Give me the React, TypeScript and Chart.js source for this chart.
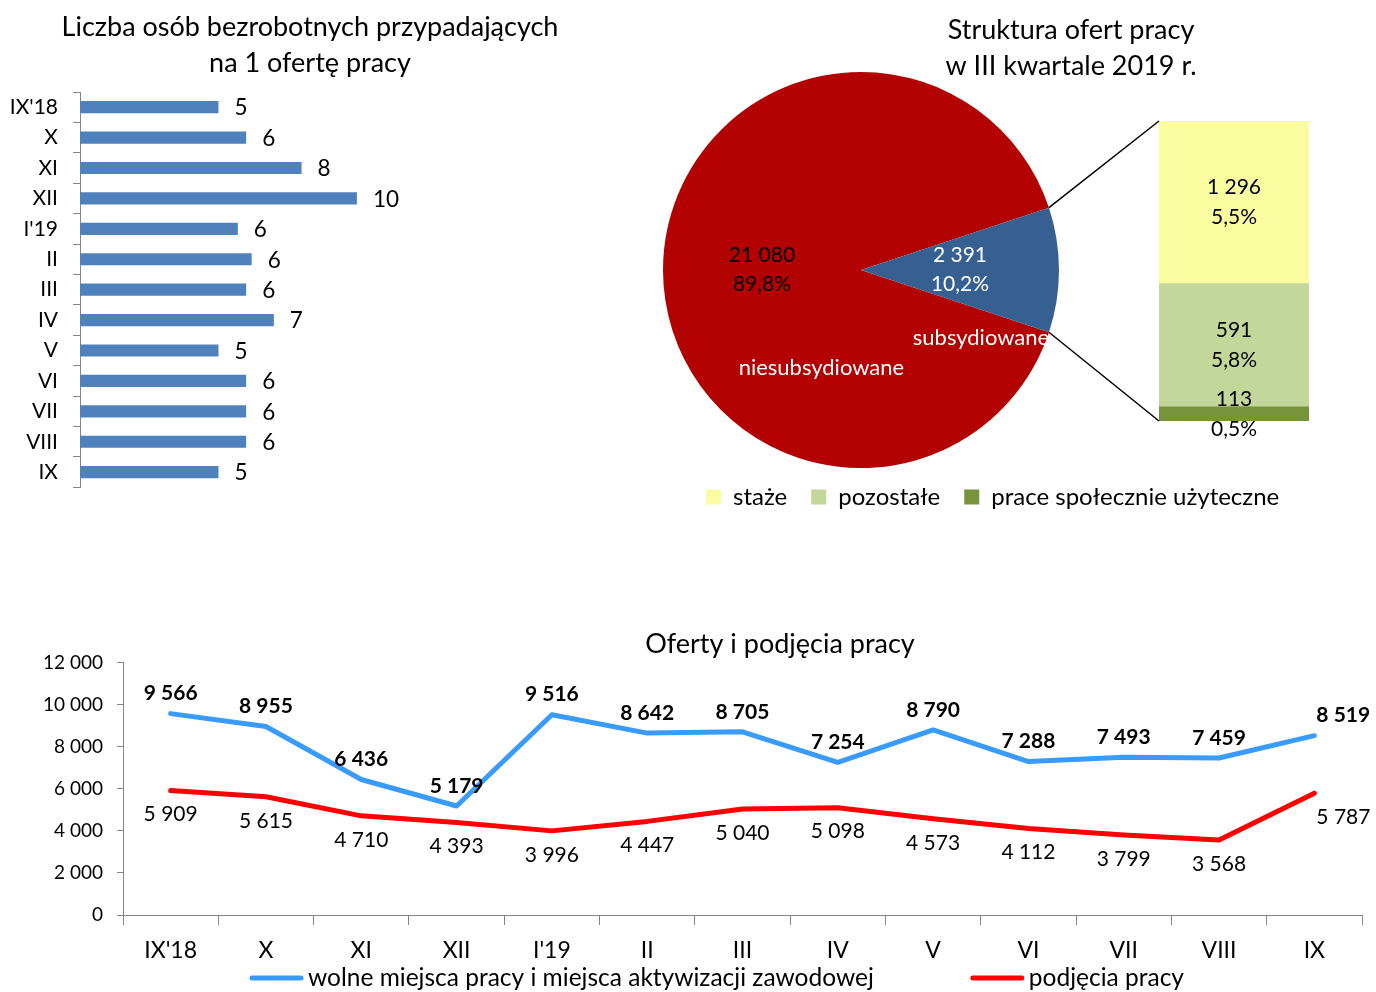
import React, { useEffect, useRef } from "react";
import { Chart, registerables } from "chart.js";

Chart.register(...registerables);

const FONT = "Lato";

// ---------- Left: horizontal bar chart ----------
const BAR_TITLE = ["Liczba osób bezrobotnych przypadających", "na 1 ofertę pracy"];
const BAR_MONTHS = ["IX'18", "X", "XI", "XII", "I'19", "II", "III", "IV", "V", "VI", "VII", "VIII", "IX"];
const BAR_VALUES = [5.0, 6.0, 8.0, 10.0, 5.7, 6.2, 6.0, 7.0, 5.0, 6.0, 6.0, 6.0, 5.0];

// ---------- Right: pie + bar of pie ----------
const PIE_TITLE = ["Struktura ofert pracy", "w III kwartale 2019 r."];
const PIE_LABELS = ["niesubsydiowane", "subsydiowane"];
const PIE_VALUES = [21080, 2391];
const PIE_COLORS = ["#B30000", "#376092"];

// secondary stacked bar, listed bottom -> top
const SUB_LABELS = ["prace społecznie użyteczne", "pozostałe", "staże"];
const SUB_HEIGHTS = [113, 982, 1296];
const SUB_SHOWN_VALUES = [113, 591, 1296];
const SUB_PERCENTS = ["0,5%", "5,8%", "5,5%"];
const SUB_COLORS = ["#77933C", "#C4D79B", "#FAFCA0"];

// ---------- Bottom: line chart ----------
const LINE_TITLE = "Oferty i podjęcia pracy";
const LINE_MONTHS = ["IX'18", "X", "XI", "XII", "I'19", "II", "III", "IV", "V", "VI", "VII", "VIII", "IX"];
const OFFERS = [9566, 8955, 6436, 5179, 9516, 8642, 8705, 7254, 8790, 7288, 7493, 7459, 8519];
const PLACEMENTS = [5909, 5615, 4710, 4393, 3996, 4447, 5040, 5098, 4573, 4112, 3799, 3568, 5787];
const LINE_SERIES = ["wolne miejsca pracy i miejsca aktywizacji zawodowej", "podjęcia pracy"];
const LINE_COLORS = ["#3A9BFF", "#FF0000"];
const Y_MAX = 12000;
const Y_STEP = 2000;

// ---------- layout (page coordinates of canvases) ----------
const C1 = { left: 0, top: 0, width: 620, height: 515 };
const C2 = { left: 653, top: 62, width: 416, height: 416 };
const C3 = { left: 682, top: 0, width: 778, height: 519 };
const C4 = { left: 0, top: 600, width: 1560, height: 392 };

const AXIS = "#868686";

const fmt = (n: number) => String(Math.round(n)).replace(/\B(?=(\d{3})+(?!\d))/g, " ");
const pct = (v: number, total: number) => (Math.round((v / total) * 1000) / 10).toFixed(1).replace(".", ",") + "%";

export default function App() {
  const r1 = useRef<HTMLCanvasElement>(null);
  const r2 = useRef<HTMLCanvasElement>(null);
  const r3 = useRef<HTMLCanvasElement>(null);
  const r4 = useRef<HTMLCanvasElement>(null);

  useEffect(() => {
    Chart.defaults.font.family = FONT;
    Chart.defaults.color = "#000";

    // ----- chart 1: horizontal bars -----
    const barLabels = {
      id: "barLabels",
      afterDatasetsDraw(chart: any) {
        const ctx = chart.ctx;
        const meta = chart.getDatasetMeta(0);
        ctx.save();
        ctx.font = `22.5px ${FONT}`;
        ctx.fillStyle = "#000";
        ctx.textAlign = "left";
        ctx.textBaseline = "middle";
        meta.data.forEach((bar: any, i: number) => {
          ctx.fillText(String(Math.round(BAR_VALUES[i])), bar.x + 16, bar.y + 1);
        });
        ctx.restore();
      },
    };
    const c1 = new Chart(r1.current!, {
      type: "bar",
      data: {
        labels: BAR_MONTHS,
        datasets: [
          {
            data: BAR_VALUES,
            backgroundColor: "#4F81BD",
            barPercentage: 0.4,
            categoryPercentage: 1,
          },
        ],
      },
      options: {
        indexAxis: "y",
        animation: false,
        responsive: false,
        maintainAspectRatio: false,
        layout: { padding: 0 },
        plugins: {
          legend: { display: false },
          tooltip: { enabled: false },
          title: {
            display: true,
            text: BAR_TITLE,
            font: { family: FONT, size: 27, lineHeight: 36 / 27, weight: "normal" },
            color: "#000",
            padding: { top: 9, bottom: 11 },
          },
        },
        scales: {
          x: { display: false, min: 0, max: 19.5 },
          y: {
            grid: { drawOnChartArea: false, drawTicks: true, tickLength: 7, color: AXIS, offset: true },
            border: { color: AXIS },
            ticks: { font: { family: FONT, size: 21 }, color: "#000", padding: 15, autoSkip: false },
            afterFit: (s: any) => {
              s.width = 80;
            },
          },
        },
      },
      plugins: [barLabels],
    } as any);

    // ----- chart 2: pie -----
    const pieTotal = PIE_VALUES.reduce((a, b) => a + b, 0);
    const beforeLast = PIE_VALUES.slice(0, -1).reduce((a, b) => a + b, 0);
    const rotation = 90 - ((beforeLast + PIE_VALUES[PIE_VALUES.length - 1] / 2) / pieTotal) * 360;
    const CAT_OFFSETS = [
      [-0.2, 0.495],
      [0.606, 0.343],
    ];
    const pieLabels = {
      id: "pieLabels",
      afterDatasetsDraw(chart: any) {
        const ctx = chart.ctx;
        const meta = chart.getDatasetMeta(0);
        ctx.save();
        ctx.textAlign = "center";
        ctx.textBaseline = "middle";
        meta.data.forEach((arc: any, i: number) => {
          const p = arc.getProps(["x", "y", "startAngle", "endAngle", "outerRadius"], true);
          const mid = (p.startAngle + p.endAngle) / 2;
          const vx = p.x + Math.cos(mid) * p.outerRadius * 0.5;
          const vy = p.y + Math.sin(mid) * p.outerRadius * 0.5;
          ctx.font = `21px ${FONT}`;
          ctx.fillStyle = i === 0 ? "#000" : "#fff";
          ctx.fillText(fmt(PIE_VALUES[i]), vx, vy - 14.5);
          ctx.fillText(pct(PIE_VALUES[i], pieTotal), vx, vy + 14.5);
          ctx.font = `22px ${FONT}`;
          ctx.fillStyle = "#fff";
          ctx.fillText(PIE_LABELS[i], p.x + CAT_OFFSETS[i][0] * p.outerRadius, p.y + CAT_OFFSETS[i][1] * p.outerRadius);
        });
        ctx.restore();
      },
    };
    const c2 = new Chart(r2.current!, {
      type: "pie",
      data: {
        labels: PIE_LABELS,
        datasets: [{ data: PIE_VALUES, backgroundColor: PIE_COLORS, borderWidth: 0 }],
      },
      options: {
        animation: false,
        responsive: false,
        maintainAspectRatio: false,
        rotation,
        layout: { padding: 10 },
        plugins: { legend: { display: false }, tooltip: { enabled: false }, title: { display: false } },
      },
      plugins: [pieLabels],
    } as any);

    // ----- chart 3: bar of pie -----
    const subTotal = SUB_HEIGHTS.reduce((a, b) => a + b, 0);
    const subPlugin = {
      id: "subPlugin",
      afterDatasetsDraw(chart: any) {
        const ctx = chart.ctx;
        ctx.save();
        ctx.font = `21px ${FONT}`;
        ctx.fillStyle = "#000";
        ctx.textAlign = "center";
        ctx.textBaseline = "middle";
        chart.data.datasets.forEach((ds: any, i: number) => {
          const bar = chart.getDatasetMeta(i).data[0] as any;
          const cy = (bar.y + bar.base) / 2;
          ctx.fillText(fmt(SUB_SHOWN_VALUES[i]), bar.x, cy - 15);
          ctx.fillText(SUB_PERCENTS[i], bar.x, cy + 15);
        });
        // connector lines from the pie slice to the stacked bar
        const arc = c2.getDatasetMeta(0).data[PIE_VALUES.length - 1] as any;
        const p = arc.getProps(["x", "y", "startAngle", "endAngle", "outerRadius"], true);
        const dx = C2.left - C3.left;
        const dy = C2.top - C3.top;
        const sx = dx + p.x + Math.cos(p.startAngle) * p.outerRadius;
        const sy = dy + p.y + Math.sin(p.startAngle) * p.outerRadius;
        const ex = dx + p.x + Math.cos(p.endAngle) * p.outerRadius;
        const ey = dy + p.y + Math.sin(p.endAngle) * p.outerRadius;
        const n = chart.data.datasets.length;
        const top = chart.getDatasetMeta(n - 1).data[0] as any;
        const bottom = chart.getDatasetMeta(0).data[0] as any;
        ctx.strokeStyle = "#000";
        ctx.lineWidth = 1.5;
        ctx.beginPath();
        ctx.moveTo(sx, sy);
        ctx.lineTo(top.x - top.width / 2, top.y);
        ctx.moveTo(ex, ey);
        ctx.lineTo(bottom.x - bottom.width / 2, bottom.base);
        ctx.stroke();
        ctx.restore();
      },
    };
    const hidden = {
      display: true,
      grid: { display: false },
      ticks: { display: false },
      border: { display: false },
    };
    const c3 = new Chart(r3.current!, {
      type: "bar",
      data: {
        labels: [""],
        datasets: SUB_LABELS.map((l, i) => ({
          label: l,
          data: [SUB_HEIGHTS[i]],
          backgroundColor: SUB_COLORS[i],
          borderWidth: 0,
          barPercentage: 1,
          categoryPercentage: 1,
        })),
      },
      options: {
        animation: false,
        responsive: false,
        maintainAspectRatio: false,
        layout: { padding: 0 },
        plugins: {
          tooltip: { enabled: false },
          title: {
            display: true,
            text: PIE_TITLE,
            font: { family: FONT, size: 27, lineHeight: 36 / 27, weight: "normal" },
            color: "#000",
            padding: { top: 12, bottom: 37 },
          },
          legend: {
            display: true,
            position: "bottom",
            align: "start",
            reverse: true,
            labels: { boxWidth: 15, boxHeight: 15, padding: 24, font: { family: FONT, size: 24 }, color: "#000" },
          },
        },
        scales: {
          x: { ...hidden, stacked: true, afterFit: (s: any) => { s.height = 40; } },
          y: { ...hidden, stacked: true, min: 0, max: subTotal, afterFit: (s: any) => { s.width = 477; } },
          y2: { ...hidden, position: "right", afterFit: (s: any) => { s.width = 151; } },
        },
      },
      plugins: [subPlugin],
    } as any);

    // ----- chart 4: lines -----
    const lineLabels = {
      id: "lineLabels",
      afterDatasetsDraw(chart: any) {
        const ctx = chart.ctx;
        ctx.save();
        ctx.fillStyle = "#000";
        ctx.textBaseline = "middle";
        chart.data.datasets.forEach((ds: any, di: number) => {
          const meta = chart.getDatasetMeta(di);
          ctx.font = di === 0 ? `bold 21px ${FONT}` : `21px ${FONT}`;
          meta.data.forEach((pt: any, i: number) => {
            const last = i === meta.data.length - 1;
            ctx.textAlign = last ? "left" : "center";
            const x = last ? pt.x + 2 : pt.x;
            const y = di === 0 ? pt.y - 20 : pt.y + 24;
            ctx.fillText(fmt(ds.data[i]), x, y);
          });
        });
        ctx.restore();
      },
      afterDraw(chart: any) {
        const ctx = chart.ctx;
        const y = chart.chartArea.bottom + 63;
        let x = 250;
        ctx.save();
        ctx.font = `24.5px ${FONT}`;
        ctx.textAlign = "left";
        ctx.textBaseline = "middle";
        chart.data.datasets.forEach((ds: any) => {
          ctx.strokeStyle = ds.borderColor;
          ctx.lineWidth = 5;
          ctx.lineCap = "round";
          ctx.beginPath();
          ctx.moveTo(x + 2, y);
          ctx.lineTo(x + 51, y);
          ctx.stroke();
          ctx.fillStyle = "#000";
          ctx.fillText(ds.label, x + 58, y);
          x += 58 + ctx.measureText(ds.label).width + 97;
        });
        ctx.restore();
      },
    };
    const c4 = new Chart(r4.current!, {
      type: "line",
      data: {
        labels: LINE_MONTHS,
        datasets: [
          { label: LINE_SERIES[0], data: OFFERS, borderColor: LINE_COLORS[0] },
          { label: LINE_SERIES[1], data: PLACEMENTS, borderColor: LINE_COLORS[1] },
        ].map((d) => ({
          ...d,
          borderWidth: 5,
          pointRadius: 0,
          tension: 0,
          fill: false,
          borderCapStyle: "round",
          borderJoinStyle: "round",
        })),
      },
      options: {
        animation: false,
        responsive: false,
        maintainAspectRatio: false,
        plugins: {
          legend: { display: false },
          tooltip: { enabled: false },
          title: {
            display: true,
            text: LINE_TITLE,
            font: { family: FONT, size: 27, lineHeight: 1.2, weight: "normal" },
            color: "#000",
            padding: { top: 28, bottom: 2 },
          },
        },
        scales: {
          x: {
            offset: true,
            grid: { display: true, drawOnChartArea: false, drawTicks: true, tickLength: 10, offset: true, color: AXIS },
            border: { color: AXIS },
            ticks: { font: { family: FONT, size: 23 }, color: "#000", padding: 12, maxRotation: 0, autoSkip: false },
            afterFit: (s: any) => {
              s.height = 77;
            },
          },
          y: {
            min: 0,
            max: Y_MAX,
            grid: { drawOnChartArea: false, drawTicks: true, tickLength: 6, color: AXIS },
            border: { color: AXIS },
            ticks: { stepSize: Y_STEP, callback: (v: any) => fmt(Number(v)), font: { family: FONT, size: 19 }, color: "#000", padding: 14 },
            afterFit: (s: any) => {
              s.width = 123;
            },
          },
          y2: { ...hidden, position: "right", afterFit: (s: any) => { s.width = 198; } },
        },
      },
      plugins: [lineLabels],
    } as any);

    return () => {
      c1.destroy();
      c3.destroy();
      c2.destroy();
      c4.destroy();
    };
  }, []);

  const pos = (c: { left: number; top: number; width: number; height: number }): React.CSSProperties => ({
    position: "absolute",
    left: c.left,
    top: c.top,
    width: c.width,
    height: c.height,
  });

  return (
    <div style={{ position: "absolute", left: 0, top: 0, width: 1376, height: 992, overflow: "hidden", background: "#fff" }}>
      <canvas ref={r1} width={C1.width} height={C1.height} style={pos(C1)} />
      <canvas ref={r2} width={C2.width} height={C2.height} style={pos(C2)} />
      <canvas ref={r3} width={C3.width} height={C3.height} style={pos(C3)} />
      <canvas ref={r4} width={C4.width} height={C4.height} style={pos(C4)} />
    </div>
  );
}
